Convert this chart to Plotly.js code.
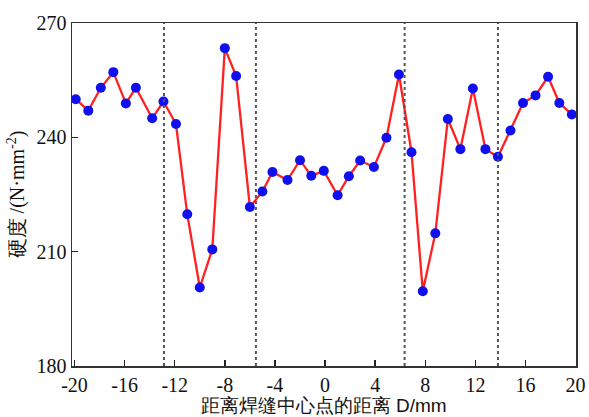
<!DOCTYPE html>
<html>
<head>
<meta charset="utf-8">
<script src="https://cdn.plot.ly/plotly-3.0.1.min.js"></script>
<style>html,body{margin:0;padding:0;background:#fff;}#chart{width:589px;height:417px;}</style>
</head>
<body>
<div id="chart"></div>
<script>
// distance from weld centre (mm)
const distance = [-19.9, -18.9, -17.9, -16.9, -15.9, -15.1, -13.8, -12.9, -11.9, -11.0,
  -10.0, -9.0, -8.0, -7.1, -6.0, -5.0, -4.2, -3.0, -2.0, -1.1,
  -0.1, 1.0, 1.9, 2.8, 3.9, 4.9, 5.9, 6.9, 7.8, 8.8,
  9.8, 10.8, 11.8, 12.8, 13.8, 14.8, 15.8, 16.8, 17.8, 18.7, 19.7];
// hardness (N·mm^-2)
const hardness = [250, 247, 253, 257.1, 248.9, 253, 245, 249.4, 243.5, 219.8,
  200.6, 210.6, 263.4, 256.1, 221.7, 225.8, 230.9, 228.8, 234.0, 229.9,
  231.2, 224.8, 229.8, 233.9, 232.2, 239.9, 256.5, 236.1, 199.6, 214.8,
  244.8, 236.9, 252.8, 236.9, 234.9, 241.8, 249.0, 251.0, 255.9, 249.0, 246.0];
// zone boundaries (dotted lines)
const boundaries = [-12.86, -5.52, 6.35, 13.8];
const xTicks = [-20, -16, -12, -8, -4, 0, 4, 8, 12, 16, 20];
const yTicks = [180, 210, 240, 270];

const serif = "Liberation Serif, DejaVu Serif, serif";

const traces = [{
  x: distance, y: hardness, type: 'scatter', mode: 'lines+markers',
  line: {color: '#ff2020', width: 2.3},
  marker: {color: '#1010ee', size: 10},
  showlegend: false, hoverinfo: 'skip'
}];

const shapes = boundaries.map(b => ({
  type: 'line', xref: 'x', yref: 'paper', x0: b, x1: b, y0: 0, y1: 1,
  line: {color: '#555555', width: 2, dash: 'dot'}
}));

const layout = {
  width: 589, height: 417,
  margin: {l: 72, r: 13, t: 23, b: 51},
  paper_bgcolor: '#ffffff', plot_bgcolor: '#ffffff',
  showlegend: false,
  font: {family: serif, size: 19, color: '#111'},
  xaxis: {
    range: [-20.2, 20.03], tickvals: xTicks, ticktext: xTicks.map(String),
    ticks: 'inside', ticklen: 6, tickwidth: 1.5, tickcolor: '#222',
    showline: true, linecolor: '#333', linewidth: 1.5, mirror: true,
    showgrid: false, zeroline: false,
    tickfont: {family: serif, size: 20, color: '#111'},
    title: {text: '距离焊缝中心点的距离 <span style="font-family:Liberation Sans">D/mm</span>', font: {family: serif, size: 19, color: '#111'}, standoff: 3}
  },
  yaxis: {
    range: [180, 270], tickvals: yTicks, ticktext: yTicks.map(String),
    ticks: 'inside', ticklen: 6, tickwidth: 1.5, tickcolor: '#222',
    showline: true, linecolor: '#333', linewidth: 1.5, mirror: true,
    showgrid: false, zeroline: false,
    tickfont: {family: serif, size: 20, color: '#111'},
    title: {text: '硬度 /(N·mm<sup>-2</sup>)', font: {family: serif, size: 20, color: '#111'}, standoff: 6}
  },
  shapes: shapes
};

Plotly.newPlot('chart', traces, layout, {displayModeBar: false, staticPlot: true});
</script>
</body>
</html>
